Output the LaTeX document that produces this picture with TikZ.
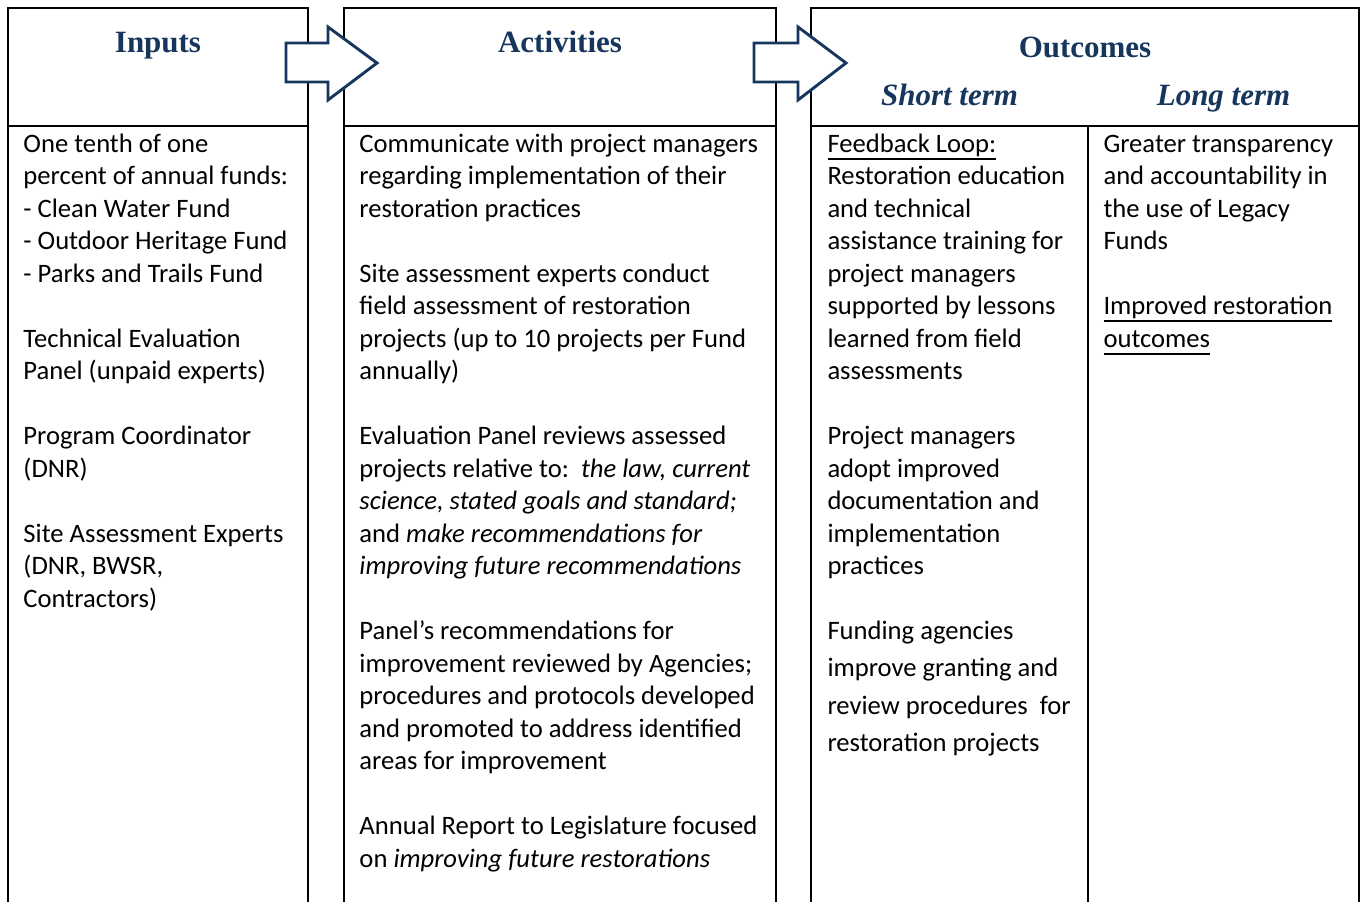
\documentclass[tikz,border=0pt]{standalone}
\usepackage{fontspec}
\setmainfont{Carlito}
\newfontfamily\headfont{Liberation Serif}
\definecolor{navy}{HTML}{17365D}
\newcommand{\undl}[1]{\setbox0\hbox{#1}\rlap{\rule[-3pt]{\wd0}{0.75pt}}\box0}
\newcommand{\topline}{\rule{0pt}{9pt}}
\tikzset{
    box/.style={line width=0.9pt, black},
    flow/.style={draw=navy, fill=white, line width=1.2pt},
    head/.style={font=\headfont\fontsize{12.8pt}{15pt}\selectfont\bfseries, text=navy, anchor=base, inner sep=0pt},
    term/.style={head, font=\headfont\fontsize{12.8pt}{15pt}\selectfont\bfseries\itshape},
    body/.style={font=\fontsize{11pt}{13.43pt}\selectfont, align=left, anchor=north west, inner sep=0pt}
}
\begin{document}
\begin{tikzpicture}[x=0.4133pt, y=-0.4133pt]
        \useasboundingbox (0,0) rectangle (1364,901);
        % columns
        \draw 
            [box] (8,910) -- (8,8) -- (308,8) -- (308,910);
        \draw 
            [box] (8,126) -- (308,126);
        \draw 
            [box] (344,910) -- (344,8) -- (776,8) -- (776,910);
        \draw 
            [box] (344,126) -- (776,126);
        \draw 
            [box] (811,910) -- (811,8) -- (1359,8) -- (1359,910);
        \draw 
            [box] (811,126) -- (1359,126);
        \draw 
            [box] (1088,126) -- (1088,910);
        % arrows
        \draw 
            [flow] (286,43) -- (328,43) -- (328,27) -- (377,63) -- (328,100) -- (328,82) -- (286,82) -- cycle;
        \draw 
            [flow] (754,43) -- (798,43) -- (798,27) -- (846,63) -- (798,100) -- (798,82) -- (754,82) -- cycle;
        % headings
        \node [head] (inputs) at (158,53) {Inputs};
        \node [head] (activities) at (560,53) {Activities};
        \node [head] (outcomes) at (1085,58) {Outcomes};
        \node [term] (short) at (949.5,106) {Short term};
        \node [term] (long) at (1223.5,106) {Long term};
        % column texts (first baseline at 152)
        \node [body] (inputtext) at (23,130.2) {\topline One tenth of one\\
            percent of annual funds:\\
            - Clean Water Fund\\
            - Outdoor Heritage Fund\\
            - Parks and Trails Fund\\[13.43pt]
            Technical Evaluation\\
            Panel (unpaid experts)\\[13.43pt]
            Program Coordinator\\
            (DNR)\\[13.43pt]
            Site Assessment Experts\\
            (DNR, BWSR,\\
            Contractors)};
        \node [body] (activitytext) at (359,130.2) {\topline Communicate with project managers\\
            regarding implementation of their\\
            restoration practices\\[13.43pt]
            Site assessment experts conduct\\
            field assessment of restoration\\
            projects (up to 10 projects per Fund\\
            annually)\\[13.43pt]
            Evaluation Panel reviews assessed\\
            projects relative to:\ \ \textit{the law, current}\\
            \textit{science, stated goals and standard;}\\
            and \textit{make recommendations for}\\
            \textit{improving future recommendations}\\[13.43pt]
            Panel’s recommendations for\\
            improvement reviewed by Agencies;\\
            procedures and protocols developed\\
            and promoted to address identified\\
            areas for improvement\\[13.43pt]
            Annual Report to Legislature focused\\
            on \textit{improving future restorations}};
        \node [body] (shorttext) at (827,130.2) {\topline\undl{Feedback Loop:}\\
            Restoration education\\
            and technical\\
            assistance training for\\
            project managers\\
            supported by lessons\\
            learned from field\\
            assessments\\[13.43pt]
            Project managers\\
            adopt improved\\
            documentation and\\
            implementation\\
            practices\\[13.43pt]
            Funding agencies\\[1.9pt]
            improve granting and\\[1.9pt]
            review procedures\ \ for\\[1.9pt]
            restoration projects};
        \node [body] (longtext) at (1103,130.2) {\topline Greater transparency\\
            and accountability in\\
            the use of Legacy\\
            Funds\\[13.43pt]
            \undl{Improved restoration}\\
            \undl{outcomes}};
    \end{tikzpicture}
\end{document}
